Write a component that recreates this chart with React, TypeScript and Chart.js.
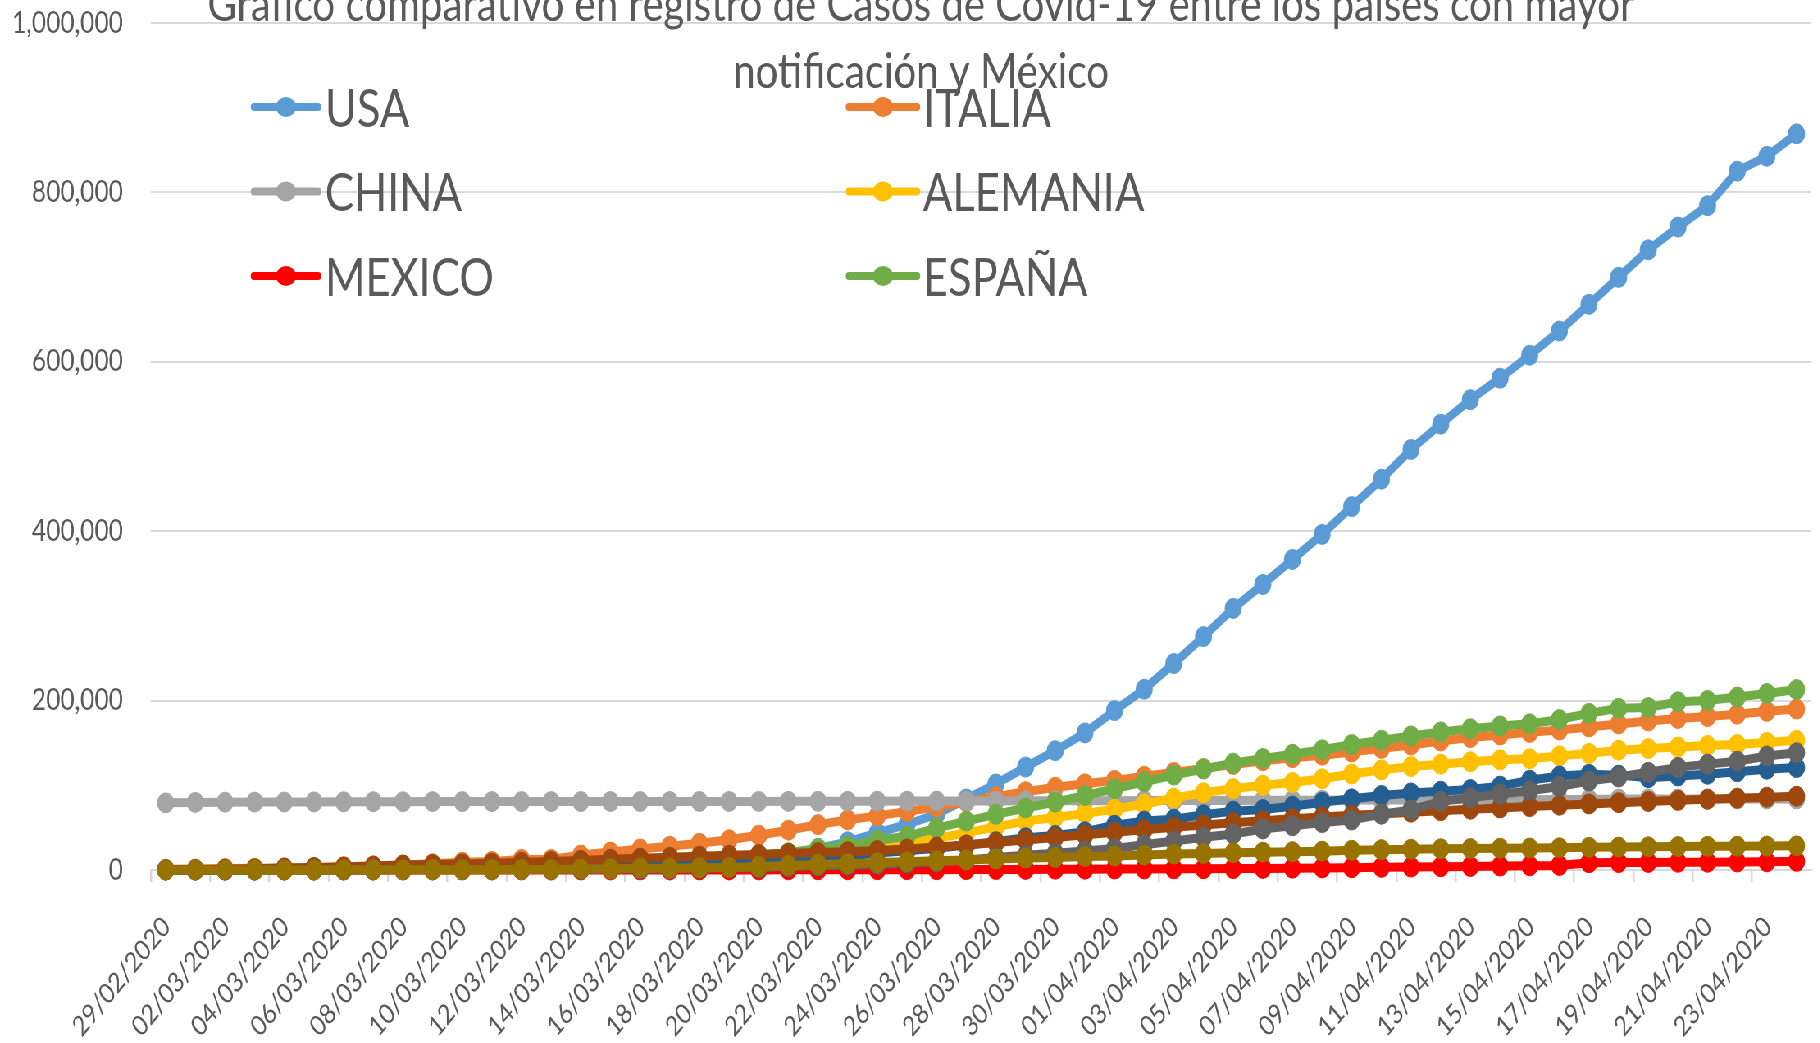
import React, { useEffect, useRef } from 'react';
import { Chart, registerables } from 'chart.js';

Chart.register(...registerables);

// ---------- data ----------
const dates = [
  '29/02/2020', '01/03/2020', '02/03/2020', '03/03/2020', '04/03/2020', '05/03/2020', '06/03/2020',
  '07/03/2020', '08/03/2020', '09/03/2020', '10/03/2020', '11/03/2020', '12/03/2020', '13/03/2020',
  '14/03/2020', '15/03/2020', '16/03/2020', '17/03/2020', '18/03/2020', '19/03/2020', '20/03/2020',
  '21/03/2020', '22/03/2020', '23/03/2020', '24/03/2020', '25/03/2020', '26/03/2020', '27/03/2020',
  '28/03/2020', '29/03/2020', '30/03/2020', '31/03/2020', '01/04/2020', '02/04/2020', '03/04/2020',
  '04/04/2020', '05/04/2020', '06/04/2020', '07/04/2020', '08/04/2020', '09/04/2020', '10/04/2020',
  '11/04/2020', '12/04/2020', '13/04/2020', '14/04/2020', '15/04/2020', '16/04/2020', '17/04/2020',
  '18/04/2020', '19/04/2020', '20/04/2020', '21/04/2020', '22/04/2020', '23/04/2020', '24/04/2020',
];

const usa = [
  62, 70, 76, 101, 122, 153, 221, 278, 417, 537, 605, 959, 1281, 1663, 2179, 2727, 3499, 4632, 6421,
  7786, 13680, 19101, 25493, 33276, 43847, 53740, 65778, 83836, 101657, 121478, 140886, 161807,
  188172, 213372, 243762, 275586, 308853, 337072, 366667, 396223, 429052, 461437, 496535, 526396,
  555313, 580619, 607670, 636350, 667801, 699706, 732197, 759086, 784326, 825041, 842624, 869170,
];
const italia = [
  888, 1128, 1694, 2036, 2502, 3089, 3858, 4636, 5883, 7375, 9172, 10149, 12462, 12462, 17660, 21157,
  24747, 27980, 31506, 35713, 41035, 47021, 53578, 59138, 63927, 69176, 74386, 80589, 86498, 92472,
  97689, 101739, 105792, 110574, 115242, 119827, 124632, 128948, 132547, 135586, 139422, 143626,
  147577, 152271, 156363, 159516, 162488, 165155, 168941, 172434, 175925, 178972, 181228, 183957,
  187327, 189973,
];
const china = [
  79251, 79824, 80026, 80151, 80270, 80409, 80552, 80651, 80695, 80735, 80754, 80778, 80793, 80801,
  80827, 80849, 80866, 80885, 80909, 80945, 80994, 81047, 81105, 81224, 81285, 81354, 81405, 81470,
  81553, 81632, 81680, 81757, 81869, 81929, 81999, 82094, 82183, 82262, 82337, 82407, 82527, 82599,
  82773, 82850, 82911, 82996, 83082, 83120, 83375, 83748, 83779, 83804, 83813, 83817, 83853, 83868,
];
const alemania = [
  48, 79, 130, 159, 196, 262, 482, 670, 799, 1040, 1176, 1457, 1908, 2078, 3675, 4585, 5795, 7272,
  9257, 12327, 15320, 19848, 22213, 24873, 29056, 32986, 37323, 43938, 50871, 57695, 62095, 66885,
  71808, 77872, 84794, 91159, 96092, 100123, 103374, 107663, 113296, 118181, 122171, 124908, 127854,
  130072, 131359, 134753, 137698, 141397, 143342, 145184, 147065, 148291, 150648, 153129,
];
const mexico = [
  1, 4, 5, 5, 5, 5, 5, 6, 6, 7, 7, 7, 8, 12, 12, 26, 41, 53, 82, 93, 118, 164, 203, 251, 316, 367,
  405, 475, 585, 717, 848, 993, 1094, 1215, 1378, 1510, 1688, 1890, 2143, 2439, 2785, 3181, 3441,
  3844, 4219, 4661, 5014, 5399, 8600, 8800, 9000, 9100, 9200, 9400, 9700, 10200,
];
const espana = [
  32, 45, 84, 120, 165, 222, 259, 400, 500, 673, 1073, 1695, 2277, 2277, 5232, 6391, 7798, 9942,
  11748, 13910, 17963, 20410, 25374, 28768, 35136, 39885, 49515, 57786, 65719, 73235, 80110, 87956,
  95923, 104118, 112065, 119199, 126168, 131646, 136675, 141942, 148220, 153222, 158273, 163027,
  166831, 170099, 172541, 177644, 184948, 190839, 191726, 198674, 200210, 204178, 208389, 213024,
];
const francia = [
  57, 100, 130, 191, 204, 288, 380, 656, 957, 1136, 1219, 1794, 2293, 2293, 3681, 4496, 4532, 6683,
  7715, 9124, 10970, 12758, 14463, 16243, 20123, 22622, 25600, 29551, 33402, 38105, 40708, 45170,
  52827, 57749, 59929, 65202, 69500, 71412, 75343, 80000, 84000, 88000, 91000, 93000, 95000, 99000,
  106000, 111000, 113000, 112000, 109000, 111000, 113000, 116000, 119000, 121000,
];
const iran = [
  388, 593, 978, 1501, 2336, 2922, 3513, 4747, 5823, 6566, 7161, 8042, 9000, 10075, 11364, 12729,
  13938, 14991, 16169, 17361, 18407, 19644, 20610, 21638, 23049, 24811, 27017, 29406, 32332, 35408,
  38309, 41495, 44605, 47593, 50468, 53183, 55743, 58226, 60500, 62589, 64586, 66220, 68192, 70029,
  71686, 73303, 74877, 76389, 77995, 79494, 80868, 82211, 83505, 84802, 85996, 87026,
];
const reinoUnido = [
  20, 23, 36, 40, 51, 86, 116, 164, 207, 274, 322, 384, 459, 459, 802, 1144, 1145, 1551, 1960, 2642,
  2716, 4014, 5067, 5745, 6726, 8164, 9640, 11812, 14745, 17312, 19780, 22453, 25481, 29865, 34173,
  38689, 42477, 48436, 52279, 55949, 59000, 66000, 71000, 81000, 85206, 89570, 93500, 98500, 105000,
  109769, 115314, 121172, 125000, 128500, 134638, 138500,
];
const suiza = [
  8, 18, 27, 42, 56, 90, 114, 214, 268, 337, 374, 491, 652, 652, 1139, 1359, 2200, 2200, 2700, 3028,
  4075, 5294, 6575, 7474, 8795, 9877, 10897, 11811, 12928, 14076, 14829, 15922, 16605, 17768, 18827,
  19606, 20505, 21100, 21657, 22253, 23280, 24051, 24551, 25107, 25415, 25688, 25936, 26336, 26732,
  27078, 27404, 27740, 27944, 28063, 28268, 28496,
];

const seriesNames = ['USA', 'ITALIA', 'CHINA', 'ALEMANIA', 'MEXICO', 'ESPAÑA', 'FRANCIA', 'IRÁN', 'REINO UNIDO', 'SUIZA'];
const seriesValues = [usa, italia, china, alemania, mexico, espana, francia, iran, reinoUnido, suiza];
const seriesColors = ['#5B9BD5', '#ED7D31', '#A5A5A5', '#FFC000', '#FF0000', '#70AD47', '#255E91', '#9E480E', '#636363', '#997300'];
const legendCount = 6;

const titleLines = ['Gráfico comparativo en registro de Casos de Covid-19 entre los países con mayor', 'notificación y México'];

// ---------- layout ----------
const SX = 0.82; // horizontal squeeze of the original picture
const H = 1043;
const IW = 2220;
const FONT = 'Lato, "Open Sans", sans-serif';
const TEXT = '#595959';

const overlayPlugin = {
  id: 'overlay',
  afterDraw(chart: any) {
    const ctx = chart.ctx as CanvasRenderingContext2D;
    ctx.save();
    ctx.fillStyle = TEXT;
    ctx.textAlign = 'center';
    ctx.textBaseline = 'alphabetic';
    ctx.font = `49px ${FONT}`;
    const cx = 921 / SX;
    ctx.fillText(titleLines[0], cx, 21);
    ctx.fillText(titleLines[1], cx, 88);

    const rows = [107, 191.5, 276];
    const cols = [
      { x0: 254 / SX, x1: 318 / SX, tx: 325 / SX },
      { x0: 849 / SX, x1: 917 / SX, tx: 923 / SX },
    ];
    ctx.textAlign = 'left';
    ctx.font = `53px ${FONT}`;
    const ds = chart.data.datasets;
    for (let i = 0; i < legendCount; i++) {
      const col = cols[i % 2];
      const y = rows[Math.floor(i / 2)];
      const color = ds[i].borderColor;
      ctx.strokeStyle = color;
      ctx.lineWidth = 8;
      ctx.lineCap = 'round';
      ctx.beginPath();
      ctx.moveTo(col.x0, y);
      ctx.lineTo(col.x1, y);
      ctx.stroke();
      ctx.fillStyle = color;
      ctx.beginPath();
      ctx.ellipse((col.x0 + col.x1) / 2, y, 10 / SX, 10, 0, 0, Math.PI * 2);
      ctx.fill();
      ctx.fillStyle = TEXT;
      ctx.fillText(ds[i].label, col.tx, y + 19.5);
    }
    ctx.restore();
  },
};

export default function App() {
  const ref = useRef<HTMLCanvasElement | null>(null);

  useEffect(() => {
    if (!ref.current) return;
    const datasets = seriesNames.map((name, i) => ({
      label: name,
      data: seriesValues[i],
      borderColor: seriesColors[i],
      backgroundColor: seriesColors[i],
      pointBackgroundColor: seriesColors[i],
      pointBorderColor: seriesColors[i],
      borderWidth: 9,
      pointRadius: 10,
      pointBorderWidth: 1,
      tension: 0,
      clip: false as any,
      order: 10 - i,
    }));

    const chart = new Chart(ref.current, {
      type: 'line',
      data: { labels: dates, datasets },
      plugins: [overlayPlugin],
      options: {
        animation: false,
        responsive: false,
        devicePixelRatio: 1,
        layout: { padding: { top: 23, right: IW - 2211, left: 0, bottom: 0 } },
        plugins: {
          legend: { display: false },
          title: { display: false },
          tooltip: { enabled: false },
        },
        scales: {
          x: {
            type: 'category',
            offset: true,
            grid: {
              offset: true,
              drawOnChartArea: false,
              drawTicks: true,
              tickLength: 12,
              lineWidth: 2.5,
              color: (c: any) => (c.index % 2 === 0 ? '#D9D9D9' : 'rgba(0,0,0,0)'),
            },
            border: { display: true, color: '#D9D9D9', width: 2 },
            ticks: {
              autoSkip: false,
              minRotation: 45,
              maxRotation: 45,
              padding: 28,
              labelOffset: 1,
              color: TEXT,
              font: { family: FONT, size: 28 },
              callback: (_v: any, i: number) => (i % 2 === 0 ? dates[i] : ''),
            },
            afterFit: (s: any) => {
              s.height = 173;
              s.paddingLeft = 0;
              s.paddingRight = 0;
            },
          },
          y: {
            min: 0,
            max: 1000000,
            grid: { color: '#D9D9D9', lineWidth: 2, drawTicks: false },
            border: { display: false },
            ticks: {
              stepSize: 200000,
              padding: 34,
              color: TEXT,
              font: { family: FONT, size: 30 },
              callback: (v: any) => Number(v).toLocaleString('en-US'),
            },
            afterFit: (s: any) => {
              s.width = 184;
              s.paddingTop = 0;
              s.paddingBottom = 0;
            },
          },
        },
      } as any,
    });
    return () => chart.destroy();
  }, []);

  return (
    <div
      style={{
        position: 'fixed',
        left: 0,
        top: 0,
        width: IW,
        height: H,
        transform: `scaleX(${SX})`,
        transformOrigin: '0 0',
        background: '#ffffff',
        overflow: 'hidden',
      }}
    >
      <canvas ref={ref} width={IW} height={H} style={{ width: IW + 'px', height: H + 'px', display: 'block' }} />
    </div>
  );
}
